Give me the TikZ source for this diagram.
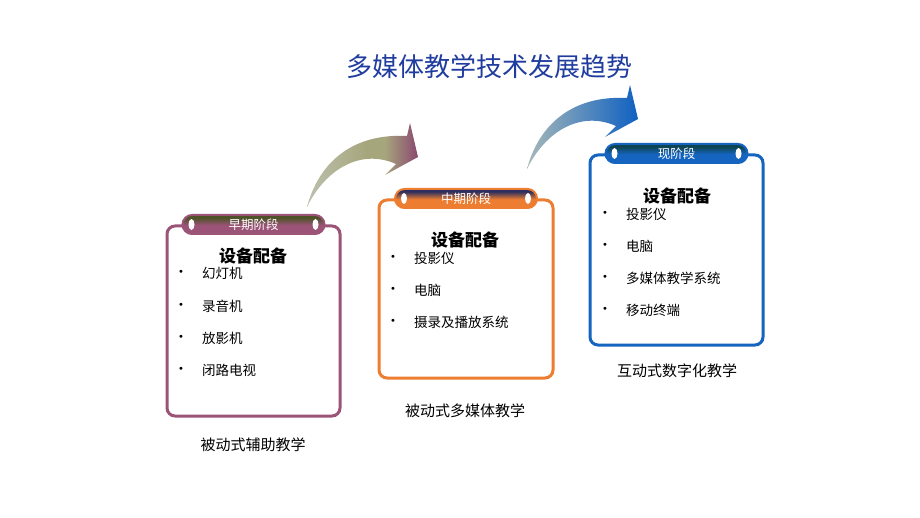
\documentclass[tikz,border=0pt]{standalone}
\usepackage{fontspec}
\setmainfont{Noto Sans CJK SC}
\newfontfamily\bulletfont{DejaVu Sans}
\usetikzlibrary{shapes.misc}
\definecolor{cA}{HTML}{9B5378}
\definecolor{cB}{HTML}{ED7D31}
\definecolor{cC}{HTML}{1565C0}
\definecolor{dA}{HTML}{4C5226}
\definecolor{dB}{HTML}{2E2F5E}
\definecolor{dC}{HTML}{0E4452}
\definecolor{titleblue}{HTML}{1F3C9E}
\definecolor{arL}{HTML}{BCC0AC}
\definecolor{arM}{HTML}{A6A67C}
\definecolor{arR}{HTML}{8A4870}
\definecolor{brL}{HTML}{A6B8B8}
\definecolor{brR}{HTML}{0F60C2}
\pgfdeclareverticalshading{tabA}{100bp}{color(0bp)=(cA); color(25bp)=(cA); color(48bp)=(cA); color(68bp)=(dA); color(75bp)=(dA); color(100bp)=(dA)}
\pgfdeclareverticalshading{tabB}{100bp}{color(0bp)=(cB); color(25bp)=(cB); color(48bp)=(cB); color(68bp)=(dB); color(75bp)=(dB); color(100bp)=(dB)}
\pgfdeclareverticalshading{tabC}{100bp}{color(0bp)=(cC); color(25bp)=(cC); color(48bp)=(cC); color(68bp)=(dC); color(75bp)=(dC); color(100bp)=(dC)}
\pgfdeclarehorizontalshading{arrA}{100bp}{color(0bp)=(arL); color(25bp)=(arL); color(52bp)=(arM); color(60bp)=(arM); color(75bp)=(arR); color(100bp)=(arR)}
\tikzset{
  frame/.style={draw=#1, line width=3pt, rounded corners=8pt, inner sep=0pt, fill=white},
  tab/.style={draw=#1, line width=2pt, rounded rectangle, minimum width=142pt, minimum height=19pt, inner sep=0pt, text=white, font=\fontsize{12.5}{13}\selectfont},
  head/.style={font=\bfseries\fontsize{17}{18}\selectfont, inner sep=0pt},
  item/.style={font=\fontsize{13.5}{14}\selectfont, anchor=west, inner sep=0pt},
  bul/.style={font=\bulletfont\fontsize{10}{10}\selectfont, inner sep=0pt},
  captext/.style={font=\fontsize{15}{16}\selectfont, inner sep=0pt},
}
\begin{document}
\begin{tikzpicture}[x=1pt,y=-1pt]
\useasboundingbox[fill=white] (0,0) rectangle (920,518);
% title
\node[font=\fontsize{26}{28}\selectfont, text=titleblue, inner sep=0pt] (title) at (489,67) {多媒体教学技术发展趋势};
% arrows
\shade[shading=arrA]
  (307,207) .. controls (318,165) and (350,133) .. (407,136)
  -- (410,123) -- (418,157) -- (385,175) -- (396,164)
  .. controls (360,148) and (325,170) .. (307,207) -- cycle;
\begin{scope}[shift={(220,-38)}]
\shade[left color=brL, right color=brR]
  (307,207) .. controls (318,165) and (350,133) .. (407,136)
  -- (410,123) -- (418,157) -- (385,175) -- (396,164)
  .. controls (360,148) and (325,170) .. (307,207) -- cycle;
\end{scope}
% boxes
\node[frame=cA, minimum width=173pt, minimum height=190pt] (b1) at (253.5,321) {};
\node[frame=cB, minimum width=174pt, minimum height=178pt] (b2) at (466,289) {};
\node[frame=cC, minimum width=173pt, minimum height=190pt] (b3) at (676.5,250) {};
% tabs
\node[tab=cA, shading=tabA] (t1) at (b1.north) {早期阶段};
\node[tab=cB, shading=tabB] (t2) at (b2.north) {中期阶段};
\node[tab=cC, shading=tabC] (t3) at (b3.north) {现阶段};
\foreach \t in {t1,t2,t3}{
  \fill[white] ([xshift=10pt]\t.west) ellipse [x radius=3pt, y radius=5.5pt];
  \fill[white] ([xshift=-10pt]\t.east) ellipse [x radius=3pt, y radius=5.5pt];
}
% headings
\node[head] (h1) at (253,256) {设备配备};
\node[head] (h2) at (465,240) {设备配备};
\node[head] (h3) at (677,196) {设备配备};
% items
\foreach \y/\txt [count=\i] in {273/幻灯机,306/录音机,338/放影机,370/闭路电视}{
  \node[bul] (a\i) at (181,\y) {•};
  \node[item] (ai\i) at (202,\y) {\txt};
}
\foreach \y/\txt [count=\i] in {258/投影仪,290/电脑,322/摄录及播放系统}{
  \node[bul] (m\i) at (393,\y) {•};
  \node[item] (mi\i) at (414,\y) {\txt};
}
\foreach \y/\txt [count=\i] in {214/投影仪,246/电脑,278/多媒体教学系统,310/移动终端}{
  \node[bul] (n\i) at (605,\y) {•};
  \node[item] (ni\i) at (626,\y) {\txt};
}
% captions
\node[captext] (c1) at (253,445) {被动式辅助教学};
\node[captext] (c2) at (465,411) {被动式多媒体教学};
\node[captext] (c3) at (677,371) {互动式数字化教学};
\end{tikzpicture}
\end{document}
